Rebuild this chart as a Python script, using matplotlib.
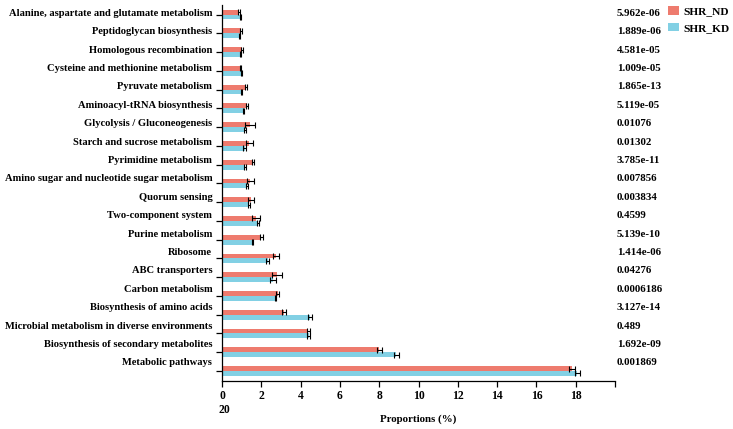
import matplotlib
matplotlib.use("Agg")
import matplotlib.pyplot as plt
import matplotlib.transforms as mtransforms
import numpy as np

# categories listed bottom -> top
pathways = [
    "Metabolic pathways",
    "Biosynthesis of secondary metabolites",
    "Microbial metabolism in diverse environments",
    "Biosynthesis of amino acids",
    "Carbon metabolism",
    "ABC transporters",
    "Ribosome",
    "Purine metabolism",
    "Two-component system",
    "Quorum sensing",
    "Amino sugar and nucleotide sugar metabolism",
    "Pyrimidine metabolism",
    "Starch and sucrose metabolism",
    "Glycolysis / Gluconeogenesis",
    "Aminoacyl-tRNA biosynthesis",
    "Pyruvate metabolism",
    "Cysteine and methionine metabolism",
    "Homologous recombination",
    "Peptidoglycan biosynthesis",
    "Alanine, aspartate and glutamate metabolism",
]
nd_mean = [17.82, 8.01, 4.38, 3.16, 2.83, 2.80, 2.75, 1.99, 1.73, 1.48,
           1.44, 1.56, 1.39, 1.43, 1.27, 1.22, 0.95, 1.00, 0.97, 0.85]
nd_err = [0.15, 0.12, 0.08, 0.10, 0.08, 0.25, 0.17, 0.07, 0.19, 0.15,
          0.17, 0.04, 0.19, 0.24, 0.07, 0.03, 0.03, 0.05, 0.04, 0.04]
kd_mean = [18.08, 8.86, 4.40, 4.48, 2.72, 2.61, 2.32, 1.56, 1.83, 1.36,
           1.27, 1.17, 1.15, 1.17, 1.09, 0.98, 1.00, 0.92, 0.88, 0.95]
kd_err = [0.12, 0.12, 0.08, 0.10, 0.03, 0.15, 0.08, 0.03, 0.05, 0.06,
          0.04, 0.03, 0.08, 0.05, 0.04, 0.02, 0.02, 0.03, 0.03, 0.02]
pvals = ["0.001869", "1.692e-09", "0.489", "3.127e-14", "0.0006186",
         "0.04276", "1.414e-06", "5.139e-10", "0.4599", "0.003834",
         "0.007856", "3.785e-11", "0.01302", "0.01076", "5.119e-05",
         "1.865e-13", "1.009e-05", "4.581e-05", "1.889e-06", "5.962e-06"]
xticks = [0, 2, 4, 6, 8, 10, 12, 14, 16, 18, 20]

RED, BLUE = "#ee7b6e", "#82d0e4"
FONT = "Liberation Serif"
FS = 7.8

fig = plt.figure(figsize=(7.33, 4.29), dpi=100)
ax = fig.add_axes([0.303, 0.112, 0.536, 0.876])

y = np.arange(len(pathways))
h = 0.26
ekw = dict(ecolor="black", elinewidth=0.8, capsize=2, capthick=0.8)
ax.barh(y + h / 2, nd_mean, height=h, color=RED, xerr=nd_err,
        error_kw=ekw, label="SHR_ND")
ax.barh(y - h / 2, kd_mean, height=h, color=BLUE, xerr=kd_err,
        error_kw=ekw, label="SHR_KD")

ax.set_ylim(-0.53, 19.5)
ax.set_xlim(0, 20)
ax.set_yticks(y)
ax.set_yticklabels([])
ax.set_xticks(xticks)
ax.set_xticklabels([str(t) for t in xticks[:-1]] + [""],
                   fontfamily=FONT, fontweight="bold", fontsize=FS + 0.6)
ax.tick_params(axis="both", direction="out", length=4, width=0.9)
ax.tick_params(axis="x", pad=2.5)
ax.spines[["top", "right"]].set_visible(False)
for s in ("left", "bottom"):
    ax.spines[s].set_linewidth(0.9)

# row labels and p-values sit on a slightly tighter grid than the ticks
lab_y = 0.43 + 0.981 * y
trans = mtransforms.blended_transform_factory(ax.transAxes, ax.transData)
for yy, name, p in zip(lab_y, pathways, pvals):
    ax.text(-0.025, yy, name, transform=trans, ha="right", va="center",
            fontfamily=FONT, fontweight="bold", fontsize=7.55)
    ax.text(1.005, yy, p, transform=trans, ha="left", va="center",
            fontfamily=FONT, fontweight="bold", fontsize=FS)

# wrapped "20" tick label under the 0
ax.text(-0.01, -0.062, "20", transform=ax.transAxes, ha="left", va="top",
        fontfamily=FONT, fontweight="bold", fontsize=FS + 0.6)
ax.set_xlabel("Proportions (%)", fontfamily=FONT, fontweight="bold",
              fontsize=FS, labelpad=9)

leg = fig.legend(loc="upper right", bbox_to_anchor=(1.009, 1.01),
                 frameon=False, handlelength=0.95, handleheight=0.8,
                 handletextpad=0.35, labelspacing=0.55,
                 prop=dict(family=FONT, weight="bold", size=FS + 0.4))

fig.savefig("out.png", dpi=100)
